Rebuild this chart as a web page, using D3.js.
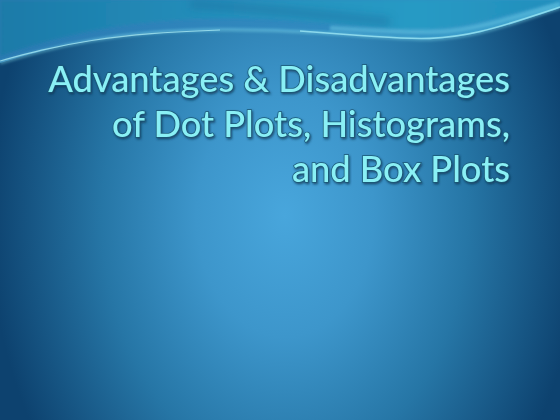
<!DOCTYPE html>
<html>
<head>
<meta charset="utf-8">
<script src="https://cdn.jsdelivr.net/npm/d3@7"></script>
<style>
  html, body { margin: 0; padding: 0; background: #1a5f8f; overflow: hidden; }
  svg { display: block; }
</style>
</head>
<body>
<svg id="slide"></svg>
<script>
// slide content
const titleLines = ["Advantages & Disadvantages", "of Dot Plots, Histograms,", "and Box Plots"];
const lineIndex = [0, 1, 2];

const w = 560;
const h = 420;

const svg = d3.select('#slide')
  .attr('width', w)
  .attr('height', h);

const defs = svg.append('defs');

// background: light spot in the middle, dark blue edges
const bg = defs.append('radialGradient')
  .attr('id', 'bgGrad')
  .attr('gradientUnits', 'userSpaceOnUse')
  .attr('cx', 285).attr('cy', 215)
  .attr('r', 370)
  .attr('gradientTransform', 'translate(285,215) scale(0.8,1.1) translate(-285,-215)');
bg.append('stop').attr('offset', '0%').attr('stop-color', '#48a6dc');
bg.append('stop').attr('offset', '30%').attr('stop-color', '#3d96cb');
bg.append('stop').attr('offset', '62%').attr('stop-color', '#2676a6');
bg.append('stop').attr('offset', '100%').attr('stop-color', '#0d426f');

// top wave band
const topGrad = defs.append('linearGradient')
  .attr('id', 'topGrad')
  .attr('x1', 0).attr('y1', 0).attr('x2', 1).attr('y2', 0);
topGrad.append('stop').attr('offset', '0%').attr('stop-color', '#1b7aa8');
topGrad.append('stop').attr('offset', '45%').attr('stop-color', '#2592be');
topGrad.append('stop').attr('offset', '75%').attr('stop-color', '#279ac4');
topGrad.append('stop').attr('offset', '100%').attr('stop-color', '#228ebc');

const wedgeGrad = defs.append('linearGradient')
  .attr('id', 'wedgeGrad')
  .attr('x1', 0).attr('y1', 0).attr('x2', 1).attr('y2', 0);
wedgeGrad.append('stop').attr('offset', '0%').attr('stop-color', '#2a7ab2');
wedgeGrad.append('stop').attr('offset', '50%').attr('stop-color', '#3189bf');
wedgeGrad.append('stop').attr('offset', '100%').attr('stop-color', '#2f96c6');

const blur = defs.append('filter').attr('id', 'soft').attr('x', '-10%').attr('y', '-50%').attr('width', '120%').attr('height', '200%');
blur.append('feGaussianBlur').attr('stdDeviation', 1.6);

const blurBig = defs.append('filter').attr('id', 'softBig').attr('x', '-10%').attr('y', '-50%').attr('width', '120%').attr('height', '200%');
blurBig.append('feGaussianBlur').attr('stdDeviation', 4);

const shadow = defs.append('filter').attr('id', 'txtShadow').attr('x', '-5%').attr('y', '-20%').attr('width', '110%').attr('height', '150%');
shadow.append('feDropShadow')
  .attr('dx', 1).attr('dy', 1.5)
  .attr('stdDeviation', 1.2)
  .attr('flood-color', '#08304f')
  .attr('flood-opacity', 0.75);

svg.append('rect')
  .attr('width', w)
  .attr('height', h)
  .attr('fill', 'url(#bgGrad)');

const line = d3.line().curve(d3.curveBasis);
// closes a curve against the top edge of the slide
const closeTop = pts => 'M0,0L' + line(pts).slice(1) + 'L560,0Z';

// wave area at the top
const waveEdge = [[0, 63], [40, 51], [90, 40], [150, 32], [220, 29], [300, 31], [380, 37], [430, 41], [480, 34], [530, 18], [560, 8]];
const upperEdge = [[0, 56], [50, 40], [110, 26], [190, 18], [270, 18], [340, 24], [400, 30], [450, 30], [510, 14], [560, 2]];

svg.append('path')
  .attr('d', closeTop(waveEdge))
  .attr('fill', 'url(#wedgeGrad)');

svg.append('path')
  .attr('d', closeTop(upperEdge))
  .attr('fill', 'url(#topGrad)')
  .attr('filter', 'url(#soft)');

// darker streak inside the wave
svg.append('path')
  .attr('d', line([[190, 4], [260, 9], [330, 16], [390, 22]]))
  .attr('fill', 'none')
  .attr('stroke', '#1d6d9e')
  .attr('stroke-width', 8)
  .attr('opacity', 0.5)
  .attr('filter', 'url(#softBig)');

// bright swoosh lines
svg.append('path')
  .attr('d', line(waveEdge))
  .attr('fill', 'none')
  .attr('stroke', '#8ae6f4')
  .attr('stroke-width', 2.5)
  .attr('opacity', 0.5)
  .attr('filter', 'url(#soft)');

svg.append('path')
  .attr('d', line([[0, 61], [40, 50], [90, 40], [150, 33], [220, 30]]))
  .attr('fill', 'none')
  .attr('stroke', '#b4f2fa')
  .attr('stroke-width', 1.2)
  .attr('opacity', 0.7);

svg.append('path')
  .attr('d', line([[300, 31], [380, 37], [430, 40], [480, 33], [530, 17], [560, 7]]))
  .attr('fill', 'none')
  .attr('stroke', '#a8eef8')
  .attr('stroke-width', 1.6)
  .attr('opacity', 0.7);

svg.append('path')
  .attr('d', line([[330, 28], [400, 32], [450, 33], [500, 22], [560, 4]]))
  .attr('fill', 'none')
  .attr('stroke', '#7fdcef')
  .attr('stroke-width', 5)
  .attr('opacity', 0.4)
  .attr('filter', 'url(#soft)');

// title, right aligned
const yScale = d3.scaleLinear()
  .domain([0, 2])
  .range([92, 182]);

const title = svg.append('g')
  .attr('filter', 'url(#txtShadow)');

const texts = title.selectAll('text')
  .data(titleLines)
  .join('text')
    .attr('x', 510)
    .attr('y', (d, i) => yScale(lineIndex[i]))
    .attr('text-anchor', 'end')
    .attr('font-family', 'Lato, "Open Sans", sans-serif')
    .attr('font-weight', 500)
    .attr('font-size', 32)
    .attr('fill', '#8af0f5')
    .attr('stroke', '#1a5876')
    .attr('stroke-width', 1.5)
    .attr('paint-order', 'stroke')
    .text(d => d);

// scale the font so the first line spans the same width as on the slide
const firstWidth = texts.node().getComputedTextLength();
const size = 32 * 462 / firstWidth;
texts.attr('font-size', size);
</script>
</body>
</html>
